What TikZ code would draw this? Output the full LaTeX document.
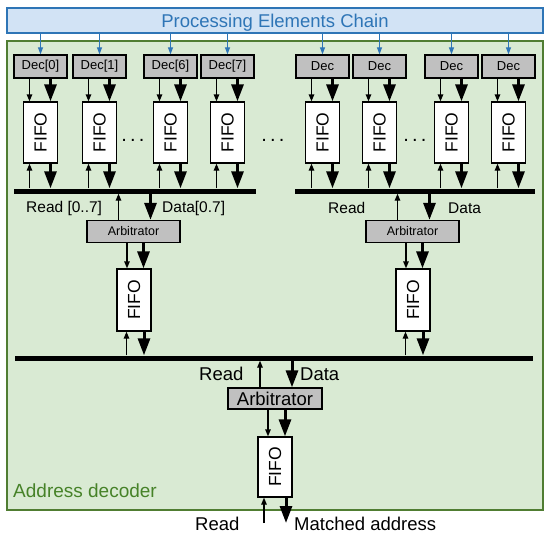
\documentclass[tikz,border=0pt]{standalone}
\usepackage{fontspec}
\setmainfont{Liberation Sans}
\usepackage{graphicx}
\usetikzlibrary{arrows.meta,calc}
\definecolor{pebl}{RGB}{46,117,182}
\definecolor{pefill}{RGB}{210,227,245}
\definecolor{adfill}{RGB}{217,234,211}
\definecolor{adline}{RGB}{80,125,50}
\definecolor{adtext}{RGB}{70,130,40}
\definecolor{decfill}{RGB}{192,192,192}
\newcommand\fifotext{\rotatebox{90}{\fontsize{17.5}{18}\selectfont FIFO}}
\newcommand\mydots{.\kern3.2pt.\kern3.2pt.}
\begin{document}
\begin{tikzpicture}[x=1pt,y=-1pt,
  pe/.style={draw=pebl, fill=pefill, line width=1.5pt, inner sep=0pt},
  ad/.style={draw=adline, fill=adfill, line width=2pt, inner sep=0pt},
  decbox/.style={draw=black, fill=decfill, line width=1.3pt, minimum width=53pt, minimum height=23pt, inner sep=0pt, font=\fontsize{13}{15}\selectfont},
  fifobox/.style={draw=black, fill=white, line width=1.3pt, minimum width=34pt, minimum height=61pt, inner sep=0pt},
  arbbox/.style={draw=black, fill=decfill, line width=1.3pt, minimum width=93pt, minimum height=22pt, inner sep=0pt, font=\fontsize{12.5}{14}\selectfont},
  busbar/.style={fill=black, minimum height=5pt, inner sep=0pt},
  thinar/.style={line width=1.3pt, -{Triangle[length=7pt,width=5.5pt]}},
  thickar/.style={line width=3pt, -{Triangle[length=17pt,width=12pt]}},
  bluear/.style={draw=pebl, line width=1.2pt, -{Triangle[length=7pt,width=5pt]}},
  lblS/.style={anchor=base west, inner sep=0pt, font=\fontsize{15.5}{17}\selectfont},
  lblL/.style={anchor=base west, inner sep=0pt, font=\fontsize{18.5}{20}\selectfont},
  dotsn/.style={inner sep=0pt, font=\fontsize{20}{20}\selectfont}
]
\useasboundingbox (0,0) rectangle (550,539);

% outer boxes
\node[pe, minimum width=536pt, minimum height=25pt] (pec) at (275,20.5) {};
\node[anchor=base, inner sep=0pt, text=pebl, font=\fontsize{18.5}{20}\selectfont] (pet) at (275,27) {Processing Elements Chain};
\node[ad, minimum width=536pt, minimum height=469pt] (adec) at (275,275.5) {};
\node[anchor=base west, inner sep=0pt, text=adtext, font=\fontsize{19}{21}\selectfont] (adl) at (13,497) {Address decoder};

% buses
\node[busbar, minimum width=242pt] (busL) at (135,191) {};
\node[busbar, minimum width=240pt] (busR) at (415,191) {};
\node[busbar, minimum width=518pt] (busM) at (274,358) {};

% first level
\foreach \i/\cx/\lab/\bus in {0/40.5/{Dec[0]}/busL, 1/99.5/{Dec[1]}/busL, 6/170.5/{Dec[6]}/busL, 7/227.5/{Dec[7]}/busL,
                             a/322.5/Dec/busR, b/379.5/Dec/busR, c/451.5/Dec/busR, d/508.5/Dec/busR} {
  \node[decbox] (d\i) at (\cx,66.5) {\lab};
  \node[fifobox] (f\i) at (\cx,132.5) {\fifotext};
  \draw[bluear] (d\i.north |- pec.south) -- (d\i.north);
  \draw[thinar] ([xshift=-11pt]d\i.south) -- ([xshift=-11pt]f\i.north);
  \draw[thickar] ([xshift=10pt]d\i.south) -- ([xshift=10pt]f\i.north);
  \draw[thinar] ([xshift=-11pt]f\i.south |- \bus.north) -- ([xshift=-11pt]f\i.south);
  \draw[thickar] ([xshift=10pt]f\i.south) -- ([xshift=10pt]f\i.south |- \bus.north);
}

\node[dotsn] (dt1) at (133,140) {\mydots};
\node[dotsn] (dt2) at (273,140) {\mydots};
\node[dotsn] (dt3) at (415,140) {\mydots};

% second level
\node[arbbox] (arbL) at (133.5,231.5) {Arbitrator};
\node[arbbox] (arbR) at (412.5,231.5) {Arbitrator};
\node[fifobox, minimum height=62pt] (fL) at (134,300) {\fifotext};
\node[fifobox, minimum height=62pt] (fR) at (413,300) {\fifotext};

\foreach \a/\f/\b in {arbL/fL/busL, arbR/fR/busR} {
  \draw[thinar] ([xshift=-15pt]\a.north) -- ([xshift=-15pt]\a.north |- \b.south);
  \draw[thickar] ([xshift=17pt]\a.north |- \b.south) -- ([xshift=17pt]\a.north);
  \draw[thinar] ([xshift=-7pt]\f.north |- \a.south) -- ([xshift=-7pt]\f.north);
  \draw[thickar] ([xshift=9.5pt]\f.north |- \a.south) -- ([xshift=9.5pt]\f.north);
  \draw[thinar] ([xshift=-7.5pt]\f.south |- busM.north) -- ([xshift=-7.5pt]\f.south);
  \draw[thickar] ([xshift=10pt]\f.south) -- ([xshift=10pt]\f.south |- busM.north);
}

\node[lblS] (rl1) at (26,212.5) {Read [0..7]};
\node[lblS] (dl1) at (162,212.5) {Data[0.7]};
\node[lblS] (rl2) at (328,213) {Read};
\node[lblS] (dl2) at (448,213) {Data};

% third level
\node[arbbox, minimum width=94pt, minimum height=21pt, font=\fontsize{18.5}{20}\selectfont] (arbB) at (275,398.5) {Arbitrator};
\node[fifobox, minimum height=60pt] (fB) at (275,467) {\fifotext};
\draw[thinar] ([xshift=-15pt]arbB.north) -- ([xshift=-15pt]arbB.north |- busM.south);
\draw[thickar] ([xshift=17pt]arbB.north |- busM.south) -- ([xshift=17pt]arbB.north);
\draw[thinar] ([xshift=-7pt]fB.north |- arbB.south) -- ([xshift=-7pt]fB.north);
\draw[thickar] ([xshift=10pt]fB.north |- arbB.south) -- ([xshift=10pt]fB.north);
\coordinate (rin) at (264,523);
\coordinate (mout) at (286,523);
\draw[thinar] (rin) -- (rin |- fB.south);
\draw[thickar] (mout |- fB.south) -- (mout);

\node[lblL] (rl3) at (199,380) {Read};
\node[lblL] (dl3) at (300,380) {Data};
\node[lblL] (rl4) at (195,530) {Read};
\node[lblL] (ml4) at (294,530) {Matched address};
\end{tikzpicture}
\end{document}
